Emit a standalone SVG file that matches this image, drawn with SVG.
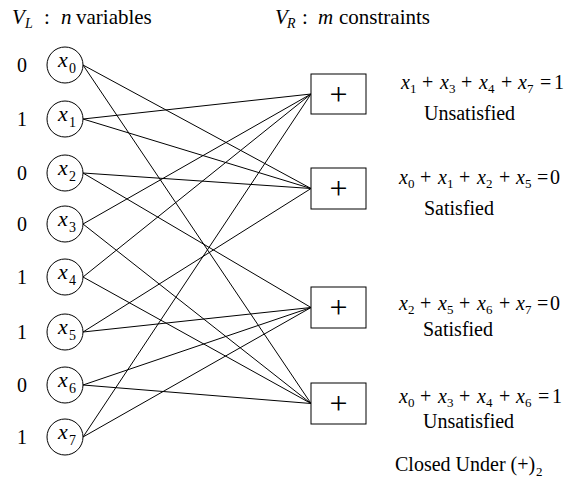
<svg xmlns="http://www.w3.org/2000/svg" width="579" height="487" viewBox="0 0 579 487">
<style>
text{font-family:'Liberation Serif','Times New Roman','DejaVu Serif',serif;fill:#000}
.h{font-size:21px}
.hs{font-size:14px}
.it{font-style:italic}
.bit{font-size:20px}
.v{font-size:22px;font-style:italic}
.vs{font-size:14px;font-style:normal}
.eq{font-size:20px}
.es{font-size:13px;font-style:normal}
.st{font-size:20px}
.plus{font-size:32px;text-anchor:middle}
circle,rect{fill:#fff;stroke:#000;stroke-width:1}
#edges line{stroke:#000;stroke-width:1}
</style>
<rect x="0" y="0" width="579" height="487" style="stroke:none;fill:#fff"/>

<g id="header">
<text class="h"><tspan class="it" x="12" y="24">V</tspan><tspan class="hs it" x="25" y="28">L</tspan><tspan x="44" y="24">:</tspan><tspan class="it" x="61" y="24">n</tspan><tspan x="76" y="24">variables</tspan></text>
<text class="h"><tspan class="it" x="275" y="24">V</tspan><tspan class="hs it" x="287" y="28">R</tspan><tspan x="302" y="24">:</tspan><tspan class="it" x="318" y="24">m</tspan><tspan x="339" y="24">constraints</tspan></text>
</g>

<g id="edges">
<line x1="83" y1="65" x2="311" y2="188.5"/>
<line x1="83" y1="65" x2="311" y2="403.5"/>
<line x1="83" y1="119" x2="311" y2="94"/>
<line x1="83" y1="119" x2="311" y2="188.5"/>
<line x1="83" y1="173" x2="311" y2="188.5"/>
<line x1="83" y1="173" x2="311" y2="307.5"/>
<line x1="83" y1="224" x2="311" y2="94"/>
<line x1="83" y1="224" x2="311" y2="403.5"/>
<line x1="83" y1="277" x2="311" y2="94"/>
<line x1="83" y1="277" x2="311" y2="403.5"/>
<line x1="83" y1="332" x2="311" y2="188.5"/>
<line x1="83" y1="332" x2="311" y2="307.5"/>
<line x1="83" y1="385" x2="311" y2="307.5"/>
<line x1="83" y1="385" x2="311" y2="403.5"/>
<line x1="83" y1="437" x2="311" y2="94"/>
<line x1="83" y1="437" x2="311" y2="307.5"/>
</g>

<g id="x0"><text class="bit" x="22" y="72" text-anchor="middle">0</text><circle cx="65" cy="65" r="18"/><text class="v" x="58" y="67">x<tspan class="vs" x="69" y="73">0</tspan></text></g>
<g id="x1"><text class="bit" x="22" y="126" text-anchor="middle">1</text><circle cx="65" cy="119" r="18"/><text class="v" x="58" y="121">x<tspan class="vs" x="69" y="127">1</tspan></text></g>
<g id="x2"><text class="bit" x="22" y="180" text-anchor="middle">0</text><circle cx="65" cy="173" r="18"/><text class="v" x="58" y="175">x<tspan class="vs" x="69" y="181">2</tspan></text></g>
<g id="x3"><text class="bit" x="22" y="231" text-anchor="middle">0</text><circle cx="65" cy="224" r="18"/><text class="v" x="58" y="226">x<tspan class="vs" x="69" y="232">3</tspan></text></g>
<g id="x4"><text class="bit" x="22" y="284" text-anchor="middle">1</text><circle cx="65" cy="277" r="18"/><text class="v" x="58" y="279">x<tspan class="vs" x="69" y="285">4</tspan></text></g>
<g id="x5"><text class="bit" x="22" y="339" text-anchor="middle">1</text><circle cx="65" cy="332" r="18"/><text class="v" x="58" y="334">x<tspan class="vs" x="69" y="340">5</tspan></text></g>
<g id="x6"><text class="bit" x="22" y="392" text-anchor="middle">0</text><circle cx="65" cy="385" r="18"/><text class="v" x="58" y="387">x<tspan class="vs" x="69" y="393">6</tspan></text></g>
<g id="x7"><text class="bit" x="22" y="444" text-anchor="middle">1</text><circle cx="65" cy="437" r="18"/><text class="v" x="58" y="439">x<tspan class="vs" x="69" y="445">7</tspan></text></g>

<g id="c0"><rect x="311" y="74" width="55" height="40"/><text class="plus" x="338.5" y="104.5">+</text>
<text class="eq"><tspan class="it" x="401" y="89">x</tspan><tspan class="es" x="410" y="93">1</tspan><tspan x="422" y="89">+</tspan><tspan class="it" x="440" y="89">x</tspan><tspan class="es" x="449" y="93">3</tspan><tspan x="461" y="89">+</tspan><tspan class="it" x="479" y="89">x</tspan><tspan class="es" x="488" y="93">4</tspan><tspan x="501" y="89">+</tspan><tspan class="it" x="518" y="89">x</tspan><tspan class="es" x="527" y="93">7</tspan><tspan x="540" y="89">=</tspan><tspan x="554" y="89">1</tspan></text>
<text class="st" x="424" y="120">Unsatisfied</text></g>

<g id="c1"><rect x="311" y="168" width="55" height="41"/><text class="plus" x="338.5" y="199">+</text>
<text class="eq"><tspan class="it" x="399" y="184">x</tspan><tspan class="es" x="408" y="188">0</tspan><tspan x="420" y="184">+</tspan><tspan class="it" x="438" y="184">x</tspan><tspan class="es" x="447" y="188">1</tspan><tspan x="459" y="184">+</tspan><tspan class="it" x="477" y="184">x</tspan><tspan class="es" x="486" y="188">2</tspan><tspan x="499" y="184">+</tspan><tspan class="it" x="516" y="184">x</tspan><tspan class="es" x="525" y="188">5</tspan><tspan x="537" y="184">=</tspan><tspan x="550" y="184">0</tspan></text>
<text class="st" x="424" y="215">Satisfied</text></g>

<g id="c2"><rect x="311" y="287" width="55" height="41"/><text class="plus" x="338.5" y="318">+</text>
<text class="eq"><tspan class="it" x="399" y="310">x</tspan><tspan class="es" x="408" y="314">2</tspan><tspan x="420" y="310">+</tspan><tspan class="it" x="438" y="310">x</tspan><tspan class="es" x="447" y="314">5</tspan><tspan x="459" y="310">+</tspan><tspan class="it" x="477" y="310">x</tspan><tspan class="es" x="486" y="314">6</tspan><tspan x="499" y="310">+</tspan><tspan class="it" x="516" y="310">x</tspan><tspan class="es" x="525" y="314">7</tspan><tspan x="537" y="310">=</tspan><tspan x="550" y="310">0</tspan></text>
<text class="st" x="423" y="336">Satisfied</text></g>

<g id="c3"><rect x="311" y="383" width="55" height="41"/><text class="plus" x="338.5" y="414">+</text>
<text class="eq"><tspan class="it" x="399" y="403">x</tspan><tspan class="es" x="408" y="407">0</tspan><tspan x="420" y="403">+</tspan><tspan class="it" x="438" y="403">x</tspan><tspan class="es" x="447" y="407">3</tspan><tspan x="459" y="403">+</tspan><tspan class="it" x="477" y="403">x</tspan><tspan class="es" x="486" y="407">4</tspan><tspan x="499" y="403">+</tspan><tspan class="it" x="516" y="403">x</tspan><tspan class="es" x="525" y="407">6</tspan><tspan x="538" y="403">=</tspan><tspan x="552" y="403">1</tspan></text>
<text class="st" x="423" y="428">Unsatisfied</text></g>

<g id="footer"><text class="st"><tspan x="395" y="471">Closed Under (+)</tspan><tspan class="es" x="536" y="476">2</tspan></text></g>
</svg>
